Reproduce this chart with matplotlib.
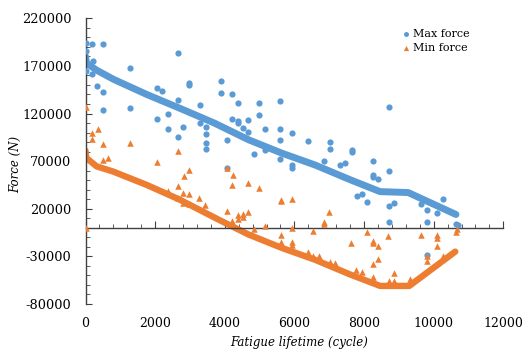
import matplotlib
matplotlib.use("Agg")
import matplotlib.pyplot as plt
from matplotlib.ticker import MultipleLocator

# ---- data ----
# dense trend bands (breakpoints)
max_band_x = [0, 30, 320, 800, 1760, 2710, 3700, 4680, 5630, 6590, 7600, 8460, 9270, 10640]
max_band_y = [180000, 173000, 165500, 156000, 140000, 125500, 110000, 92500, 78500, 66000, 50500, 38000, 37000, 14000]
min_band_x = [0, 20, 320, 800, 1760, 2710, 3800, 4680, 5630, 6590, 7600, 8460, 9300, 10620]
min_band_y = [81000, 73500, 64500, 59000, 45000, 29500, 9000, -7000, -21000, -33500, -49000, -61000, -61000, -25000]

# scattered points
max_x = [0, 0, 0, 200, 490, 225, 200, 340, 490, 490, 1280, 1280, 2670, 2060, 2200, 2060, 2360, 2360,
         2670, 2810, 2670, 2970, 2970, 3290, 3290, 3460, 3460, 3460, 3460, 3890, 3890, 4220, 4370, 4220,
         4370, 4370, 4070, 4070, 4530, 4680, 4680, 4840, 4990, 4990, 5150, 5150, 5600, 5600, 5600, 5600,
         5920, 5920, 5920, 6380, 6850, 7010, 7010, 7310, 7450, 7640, 7640, 8250, 8250, 8250, 8390, 8720,
         8720, 7790, 7930, 8090, 8720, 8870, 8720, 9650, 9800, 9800, 10100, 10260, 10640, 10700, 9800]
max_y = [194000, 186000, 165000, 193000, 193000, 175000, 162000, 149000, 143000, 124000, 167500, 126000,
         184000, 146500, 144000, 114000, 119000, 104000, 95000, 106000, 134000, 152500, 150000, 129000,
         110000, 106000, 99000, 89500, 82500, 154500, 142000, 140500, 131000, 114000, 112500, 110000,
         92500, 62500, 104500, 113000, 101000, 78000, 131000, 118000, 104000, 82000, 133300, 104000,
         92500, 72000, 99500, 66000, 62500, 91500, 70500, 90000, 82500, 66000, 68000, 81800, 80000,
         70000, 55500, 53000, 51000, 127300, 60000, 33000, 35500, 27000, 23000, 26000, 6600, 25000,
         19000, 5600, 15500, 30000, 4000, 2500, -28300]

min_x = [0, 0, 180, 200, 350, 490, 1280, 490, 650, 2040, 2670, 2980, 2830, 4230, 2360, 2670, 2810, 2980,
         2670, 2810, 2980, 3270, 3430, 4070, 4220, 4680, 4990, 5610, 5920, 5610, 4070, 4370, 4530, 4370,
         4530, 4680, 4220, 4840, 5150, 5610, 5920, 5920, 5920, 6540, 6850, 6850, 7000, 7620, 8090, 8250,
         8250, 8410, 8700, 9630, 10100, 10100, 10100, 8410, 8250, 8870, 9800, 9800, 10640, 10660,
         7770, 7930, 8250, 8720, 8870, 9320, 10260, 6380, 6540, 6700, 7020, 7170, 5610]
min_y = [126500, 0, 99500, 93000, 104000, 88000, 89500, 71000, 73000, 69500, 80500, 61000, 54700, 55500,
         39000, 43500, 37000, 35500, 31000, 26500, 25000, 31000, 24000, 62600, 44500, 47500, 41500,
         29500, 30500, 28000, 18000, 13500, 14500, 9000, 11000, 17000, 7300, -1000, 2400, -7300, -500,
         -14500, -18000, -3500, 6600, 3500, 17000, -16000, -4200, -14000, -16000, -19600, -9100, -7300,
         -7300, -10800, -18800, -32800, -38500, -47000, -35000, -29200, -3900, -1500,
         -44800, -46900, -51700, -55600, -55600, -53800, -30100, -24900, -30100, -30100, -35400, -37000,
         -15400]

x_ticks = [0, 2000, 4000, 6000, 8000, 10000, 12000]
y_ticks = [-80000, -30000, 20000, 70000, 120000, 170000, 220000]

blue = "#5B9BD5"
orange = "#ED7D31"

plt.rcParams['font.family'] = ['DejaVu Serif']

fig = plt.figure(figsize=(5.22, 3.51), dpi=100)
ax = fig.add_axes([0.1638, 0.1339, 0.8004, 0.8140])

ax.plot(max_band_x, max_band_y, color=blue, lw=5.0, solid_capstyle='round', solid_joinstyle='round', zorder=2)
ax.plot(min_band_x, min_band_y, color=orange, lw=4.6, solid_capstyle='round', solid_joinstyle='round', zorder=2)
ax.scatter(max_x, max_y, s=20, marker='o', color=blue, linewidths=0, zorder=3, label='Max force')
ax.scatter(min_x, min_y, s=22, marker='^', color=orange, linewidths=0, zorder=3, label='Min force')

ax.set_xlim(0, 12000)
ax.set_ylim(-80000, 220000)

for s in ['top', 'right']:
    ax.spines[s].set_visible(False)
ax.spines['bottom'].set_position(('data', 0))
ax.spines['left'].set_position(('data', 0))
for s in ['bottom', 'left']:
    ax.spines[s].set_color('#404040')
    ax.spines[s].set_linewidth(1.0)

ax.set_xticks(x_ticks)
ax.set_yticks(y_ticks)
ax.xaxis.set_minor_locator(MultipleLocator(400))
ax.yaxis.set_minor_locator(MultipleLocator(10000))
ax.tick_params(axis='x', which='major', direction='in', length=5, color='#404040', labelbottom=False)
ax.tick_params(axis='x', which='minor', direction='in', length=3, color='#404040')
ax.tick_params(axis='y', which='major', direction='in', length=4, color='#404040', labelsize=9.3, pad=10)
ax.tick_params(axis='y', which='minor', direction='in', length=3, color='#404040')
ax.set_yticklabels([str(v) for v in y_ticks])

sec = ax.secondary_xaxis(0.0)
sec.set_xticks(x_ticks)
sec.set_xticklabels([str(v) for v in x_ticks])
sec.tick_params(axis='x', length=0, labelsize=9.0, pad=9)
sec.spines['bottom'].set_visible(False)

ax.set_xlabel('Fatigue lifetime (cycle)', fontstyle='italic', fontsize=8.5)
ax.set_ylabel('Force (N)', fontstyle='italic', fontsize=8.5)
ax.xaxis.set_label_coords(0.512, -0.113)
ax.yaxis.set_label_coords(-0.152, 0.49)

leg = ax.legend(loc='upper left', bbox_to_anchor=(0.735, 0.99), frameon=False, fontsize=8,
                handletextpad=0.1, handlelength=1.0, labelspacing=0.35, borderpad=0.2, markerscale=0.8)

fig.savefig('out.png', dpi=100)
